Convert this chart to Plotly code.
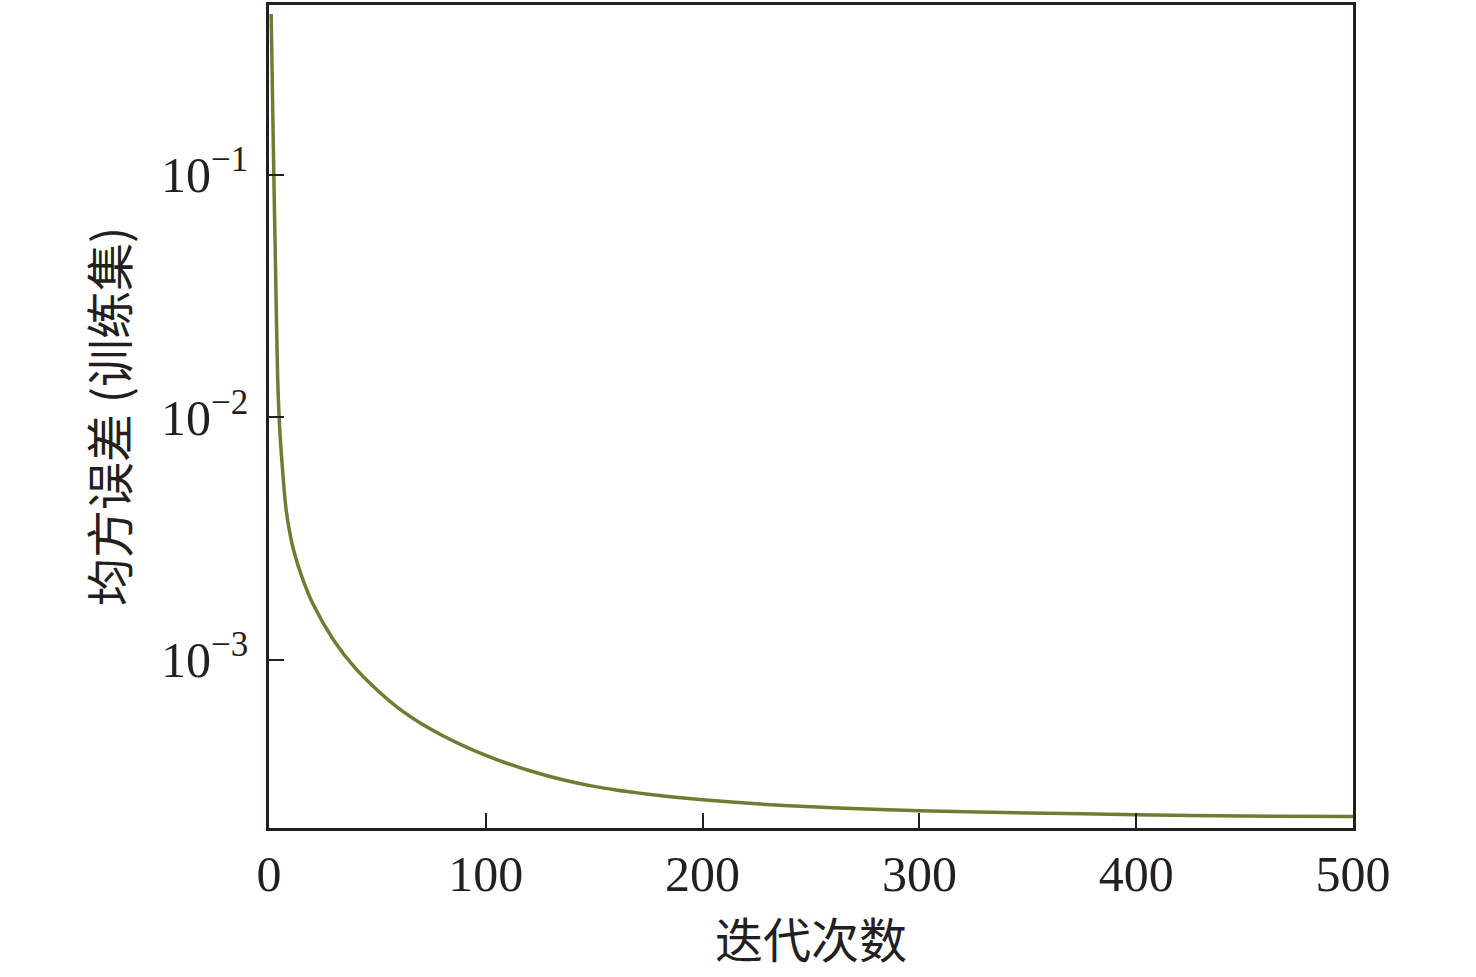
import plotly.graph_objects as go

iterations = [1, 2, 3, 4, 5, 6, 7, 8, 10, 12, 15, 20, 30, 40, 50, 60, 70, 80, 90, 100,
              110, 120, 130, 140, 150, 160, 170, 180, 190, 200, 225, 250, 275,
              300, 350, 400, 450, 500]
mse_train = [0.46, 0.13, 0.042, 0.0145, 0.0088, 0.0065, 0.0050, 0.0041, 0.0032, 0.0027,
             0.00222, 0.00172, 0.00120, 0.00092, 0.000750, 0.000630, 0.000548,
             0.000488, 0.000441, 0.000404, 0.000374, 0.000350, 0.000330, 0.000314,
             0.000301, 0.000291, 0.000283, 0.000276, 0.000270, 0.000265, 0.000255,
             0.000248, 0.000243, 0.000239, 0.000234, 0.000230, 0.000227, 0.000226]

x_ticks = [0, 100, 200, 300, 400, 500]
y_ticks = [1e-1, 1e-2, 1e-3]
y_tick_text = ["10<sup>−1</sup>", "10<sup>−2</sup>", "10<sup>−3</sup>"]

serif = "Liberation Serif, Times New Roman, Noto Sans CJK SC, serif"
cjk = "Noto Sans CJK SC"

fig = go.Figure()
fig.add_trace(go.Scatter(
    x=iterations, y=mse_train, mode="lines",
    line=dict(color="#6e7d32", width=3.5, shape="spline", smoothing=0.8),
    showlegend=False,
))

fig.update_layout(
    width=1476, height=977,
    margin=dict(l=269, r=123, t=2, b=149),
    paper_bgcolor="white", plot_bgcolor="white",
    font=dict(family=serif, size=50, color="#231f20"),
)
fig.update_xaxes(
    range=[0, 500], tickvals=x_ticks, ticks="inside", ticklen=15, tickwidth=2,
    tickcolor="#231f20", showline=True, linecolor="#231f20", linewidth=2.5,
    mirror=True, showgrid=False, zeroline=False,
    tickfont=dict(family=serif, size=50),
    title=dict(text="迭代次数", font=dict(family=cjk, size=48), standoff=4),
)
fig.update_yaxes(
    type="log", range=[-3.693, -0.30], tickvals=y_ticks, ticktext=y_tick_text,
    ticks="inside", ticklen=15, tickwidth=2, tickcolor="#231f20",
    showline=True, linecolor="#231f20", linewidth=2.5, mirror=True,
    showgrid=False, zeroline=False, ticklabelstandoff=8,
    tickfont=dict(family=serif, size=50),
    title=dict(text="均方误差 (训练集)", font=dict(family=cjk, size=48), standoff=18),
)

fig.write_html("out.html", config={"displayModeBar": False},
               post_script="document.body.style.margin='0';"
               "document.body.style.padding='0';window.dispatchEvent(new Event('resize'));")
